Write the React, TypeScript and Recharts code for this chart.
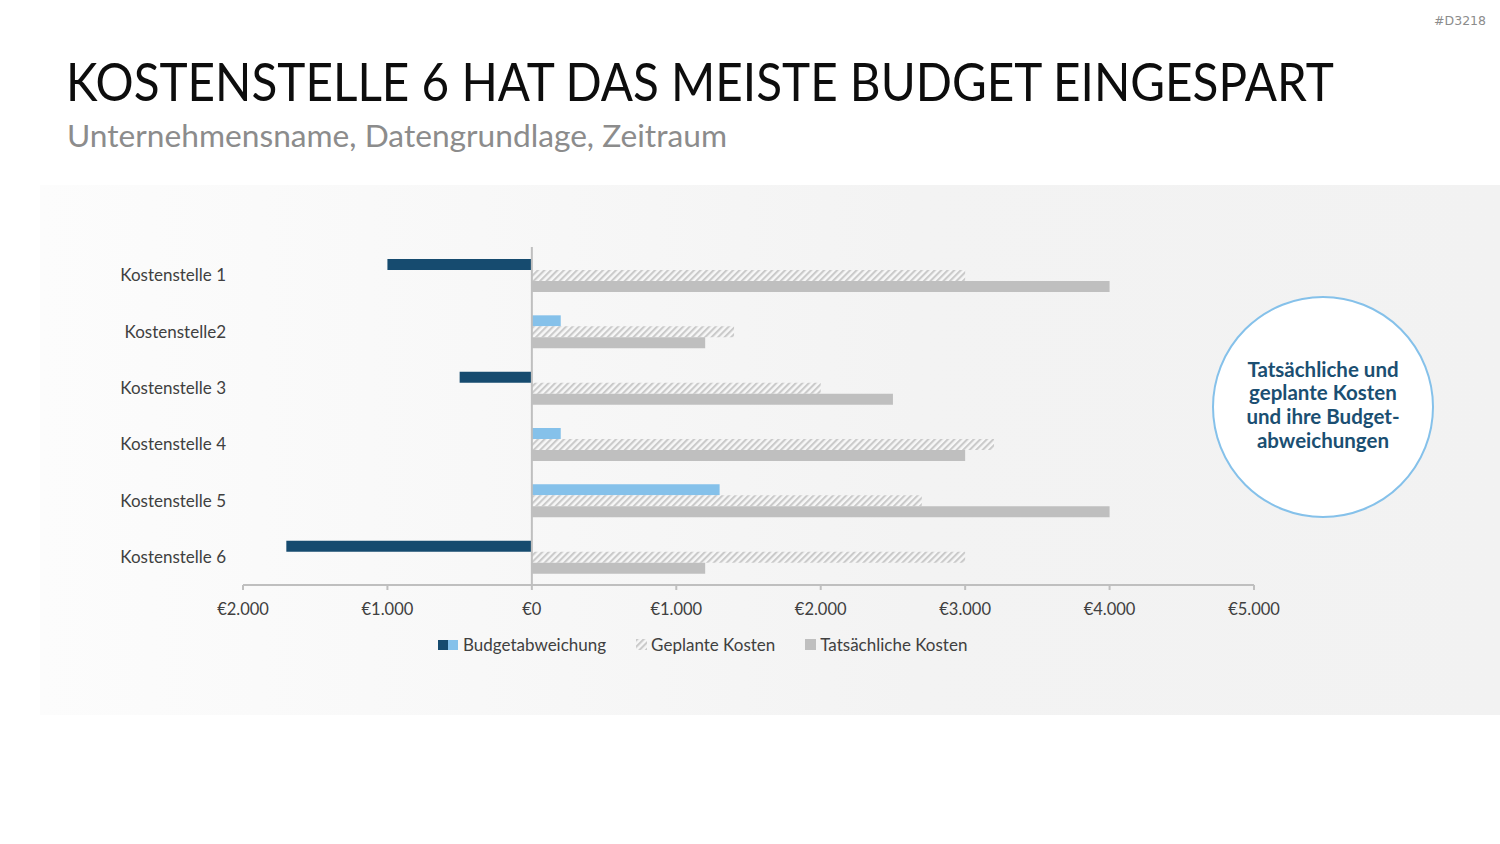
import { Bar, BarChart, Cell, Legend, ReferenceLine, XAxis, YAxis } from "recharts";

const categories = ["Kostenstelle 1", "Kostenstelle2", "Kostenstelle 3", "Kostenstelle 4", "Kostenstelle 5", "Kostenstelle 6"];
const deviation = [-1000, 200, -500, 200, 1300, -1700];
const planned = [3000, 1400, 2000, 3200, 2700, 3000];
const actual = [4000, 1200, 2500, 3000, 4000, 1200];
const xTicks = [-2000, -1000, 0, 1000, 2000, 3000, 4000, 5000];

const DARK = "#164b6f";
const LIGHT = "#85c1ea";
const GREY = "#bfbfbf";
const FONT = "Lato, 'Open Sans', sans-serif";

const rows = categories.map((name, i) => ({
  name,
  deviation: deviation[i],
  planned: planned[i],
  actual: actual[i]
}));

const euro = (v: number) =>
  "€" + String(Math.abs(v)).replace(/\B(?=(\d{3})+(?!\d))/g, ".");

function HatchIcon() {
  return (
    <svg width={11} height={11} style={{ marginRight: 4 }}>
      <rect width={11} height={11} fill="url(#hatch)" />
    </svg>
  );
}

function LegendContent() {
  const item = { display: "flex", alignItems: "center", marginRight: 30 };
  return (
    <div style={{ display: "flex", alignItems: "center", fontFamily: FONT, fontSize: 17, color: "#404040", paddingLeft: 438 }}>
      <div style={item}>
        <span style={{ width: 10, height: 10, background: DARK, display: "inline-block" }} />
        <span style={{ width: 10, height: 10, background: LIGHT, display: "inline-block", marginRight: 5 }} />
        Budgetabweichung
      </div>
      <div style={item}>
        <HatchIcon />
        Geplante Kosten
      </div>
      <div style={item}>
        <span style={{ width: 11, height: 11, background: GREY, display: "inline-block", marginRight: 4 }} />
        Tatsächliche Kosten
      </div>
    </div>
  );
}

export default function App() {
  return (
    <div style={{ position: "absolute", left: 0, top: 0, width: 1500, height: 844, background: "#fff", overflow: "hidden", fontFamily: FONT }}>
      <svg width={0} height={0} style={{ position: "absolute" }}>
        <defs>
          <pattern id="hatch" patternUnits="userSpaceOnUse" width={4.6} height={4.6} patternTransform="rotate(45)">
            <rect width={4.6} height={4.6} fill="#f7f7f7" />
            <rect width={2.1} height={4.6} fill="#cacaca" />
          </pattern>
        </defs>
      </svg>

      <div style={{ position: "absolute", right: 14, top: 13, fontSize: 12.5, color: "#8c8c8c", fontFamily: "'DejaVu Sans', sans-serif" }}>
        #D3218
      </div>
      <div
        style={{
          position: "absolute",
          left: 66,
          top: 50,
          fontSize: 52,
          color: "#0d0d0d",
          whiteSpace: "nowrap",
          transform: "scaleX(0.916)",
          transformOrigin: "left top"
        }}
      >
        KOSTENSTELLE 6 HAT DAS MEISTE BUDGET EINGESPART
      </div>
      <div style={{ position: "absolute", left: 67, top: 116, fontSize: 31.7, color: "#8c8c8c", whiteSpace: "nowrap" }}>
        Unternehmensname, Datengrundlage, Zeitraum
      </div>

      <div
        style={{
          position: "absolute",
          left: 40,
          top: 185,
          width: 1460,
          height: 530,
          background: "linear-gradient(to right, #fcfcfc 0%, #f8f8f8 30%, #f3f3f3 60%, #f2f2f2 100%)"
        }}
      />

      <div style={{ position: "absolute", left: 0, top: 0 }}>
        <BarChart
          width={1500}
          height={844}
          data={rows}
          layout="vertical"
          barSize={11}
          barGap={0}
          margin={{ top: 247, right: 246, bottom: 229, left: 40 }}
        >
          <XAxis
            type="number"
            domain={[-2000, 5000]}
            ticks={xTicks}
            tickFormatter={euro}
            height={30}
            axisLine={{ stroke: GREY, strokeWidth: 2 }}
            tickLine={{ stroke: GREY, strokeWidth: 2 }}
            tickSize={5}
            tickMargin={13}
            tick={{ fill: "#404040", fontSize: 16.5, fontFamily: FONT }}
          />
          <YAxis
            type="category"
            dataKey="name"
            width={203}
            axisLine={false}
            tickLine={false}
            tickSize={0}
            tickMargin={17}
            tick={{ fill: "#404040", fontSize: 17, fontFamily: FONT }}
          />
          <ReferenceLine x={0} stroke={GREY} strokeWidth={2} />
          <Bar dataKey="deviation" name="Budgetabweichung" isAnimationActive={false}>
            {rows.map((r, i) => (
              <Cell key={i} fill={r.deviation < 0 ? DARK : LIGHT} />
            ))}
          </Bar>
          <Bar dataKey="planned" name="Geplante Kosten" fill="url(#hatch)" isAnimationActive={false} />
          <Bar dataKey="actual" name="Tatsächliche Kosten" fill={GREY} isAnimationActive={false} />
          <Legend
            layout="horizontal"
            verticalAlign="middle"
            align="center"
            content={() => <LegendContent />}
            wrapperStyle={{ top: 634, left: 0, width: 1500 }}
          />
        </BarChart>
      </div>

      <div
        style={{
          position: "absolute",
          left: 1212,
          top: 296,
          width: 218,
          height: 218,
          borderRadius: "50%",
          border: `2px solid ${LIGHT}`,
          background: "#fff",
          display: "flex",
          alignItems: "center",
          justifyContent: "center",
          textAlign: "center",
          color: "#1b4f72",
          fontWeight: 700,
          fontSize: 20.5,
          lineHeight: "23.7px"
        }}
      >
        <div style={{ marginTop: -4 }}>
          Tatsächliche und
          <br />
          geplante Kosten
          <br />
          und ihre Budget-
          <br />
          abweichungen
        </div>
      </div>
    </div>
  );
}
